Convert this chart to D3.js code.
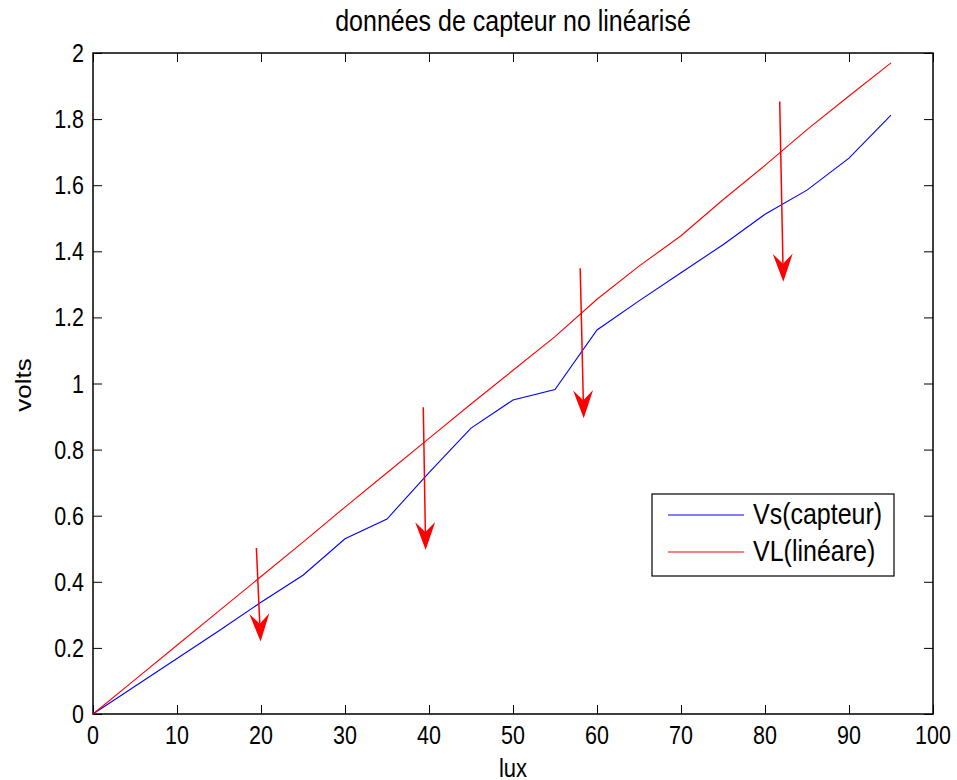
<!DOCTYPE html>
<html>
<head>
<meta charset="utf-8">
<script src="https://d3js.org/d3.v7.min.js"></script>
<style>
  body { margin: 0; background: #fff; }
  svg { display: block; }
  text { font-family: "Liberation Sans", Arial, sans-serif; fill: #000; }
</style>
</head>
<body>
<svg id="chart"></svg>
<script>
// data
var lux = [0, 5, 10, 15, 20, 25, 30, 35, 40, 45, 50, 55, 60, 65, 70, 75, 80, 85, 90, 95];
var vsCapteur = [0, 0.084, 0.168, 0.252, 0.338, 0.42, 0.53, 0.59, 0.73, 0.865, 0.95, 0.982, 1.162, 1.25, 1.335, 1.42, 1.512, 1.585, 1.682, 1.812];
var vlLineaire = [0, 0.104, 0.208, 0.312, 0.416, 0.52, 0.626, 0.73, 0.834, 0.938, 1.04, 1.142, 1.255, 1.355, 1.447, 1.556, 1.66, 1.768, 1.87, 1.97];
var seriesNames = ["Vs(capteur)", "VL(linéare)"];
var seriesColors = ["#0000ff", "#ff0000"];
var xTickValues = [0, 10, 20, 30, 40, 50, 60, 70, 80, 90, 100];
var yTickValues = [0, 0.2, 0.4, 0.6, 0.8, 1, 1.2, 1.4, 1.6, 1.8, 2];
var yTickLabels = ["0", "0.2", "0.4", "0.6", "0.8", "1", "1.2", "1.4", "1.6", "1.8", "2"];
// annotation arrows (start -> tip) in data units
var arrowStart = [[19.45, 0.502], [39.32, 0.928], [58.0, 1.349], [81.75, 1.853]];
var arrowTip = [[19.95, 0.219], [39.6, 0.496], [58.42, 0.895], [82.18, 1.308]];

var W = 957, H = 780;
var plotL = 93, plotR = 933, plotT = 53, plotB = 714;
var SY = 1.18; // text in the reference is stretched vertically

var svg = d3.select("#chart").attr("width", W).attr("height", H);

var x = d3.scaleLinear().domain([0, 100]).range([plotL, plotR]);
var y = d3.scaleLinear().domain([0, 2]).range([plotB, plotT]);

function label(g, txt, px, py, size, anchor, rot) {
  return g.append("text")
    .attr("transform", "translate(" + px + "," + py + ") scale(1," + SY + ")" + (rot ? " rotate(" + rot + ")" : ""))
    .attr("text-anchor", anchor)
    .style("font-size", size + "px")
    .text(txt);
}

// ticks, inward on all four sides
svg.append("g").attr("transform", "translate(0," + plotB + ")")
  .call(d3.axisBottom(x).tickValues(xTickValues).tickSizeInner(-9).tickSizeOuter(0).tickFormat(""));
svg.append("g").attr("transform", "translate(0," + plotT + ")")
  .call(d3.axisTop(x).tickValues(xTickValues).tickSizeInner(-9).tickSizeOuter(0).tickFormat(""));
svg.append("g").attr("transform", "translate(" + plotL + ",0)")
  .call(d3.axisLeft(y).tickValues(yTickValues).tickSizeInner(-9).tickSizeOuter(0).tickFormat(""));
svg.append("g").attr("transform", "translate(" + plotR + ",0)")
  .call(d3.axisRight(y).tickValues(yTickValues).tickSizeInner(-9).tickSizeOuter(0).tickFormat(""));
svg.selectAll(".domain").remove();
svg.selectAll(".tick line").attr("stroke", "#000").attr("stroke-width", 1);

// frame
svg.append("rect")
  .attr("x", plotL).attr("y", plotT)
  .attr("width", plotR - plotL).attr("height", plotB - plotT)
  .attr("fill", "none").attr("stroke", "#000").attr("stroke-width", 1.5);

// tick labels
var labels = svg.append("g");
xTickValues.forEach(function (v) { label(labels, String(v), x(v), plotB + 30, 21.5, "middle"); });
yTickValues.forEach(function (v, i) { label(labels, yTickLabels[i], plotL - 9, y(v) + 9, 21.5, "end"); });

// title and axis labels
label(svg, "données de capteur no linéarisé", (plotL + plotR) / 2, 31, 25, "middle");
label(svg, "lux", (plotL + plotR) / 2, 777, 22, "middle");
label(svg, "volts", 31, 385, 22, "middle", -90);

// lines
var line = d3.line().x(function (d) { return x(d[0]); }).y(function (d) { return y(d[1]); });
[vsCapteur, vlLineaire].forEach(function (vals, i) {
  svg.append("path")
    .datum(lux.map(function (l, j) { return [l, vals[j]]; }))
    .attr("d", line)
    .attr("fill", "none")
    .attr("stroke", seriesColors[i])
    .attr("stroke-width", 1.1);
});

// arrows
arrowStart.forEach(function (s, i) {
  var x0 = x(s[0]), y0 = y(s[1]), x1 = x(arrowTip[i][0]), y1 = y(arrowTip[i][1]);
  var len = Math.hypot(x1 - x0, y1 - y0), ux = (x1 - x0) / len, uy = (y1 - y0) / len;
  var nx = -uy, ny = ux;
  var bx = x1 - ux * 28, by = y1 - uy * 28, mx = x1 - ux * 18, my = y1 - uy * 18;
  svg.append("line")
    .attr("x1", x0).attr("y1", y0).attr("x2", mx).attr("y2", my)
    .attr("stroke", "#ff0000").attr("stroke-width", 1.5);
  svg.append("path")
    .attr("d", "M" + x1 + "," + y1 + "L" + (bx + nx * 10) + "," + (by + ny * 10) +
      "L" + mx + "," + my + "L" + (bx - nx * 10) + "," + (by - ny * 10) + "Z")
    .attr("fill", "#ff0000");
});

// legend
var lg = svg.append("g");
lg.append("rect").attr("x", 652).attr("y", 494).attr("width", 242).attr("height", 82)
  .attr("fill", "#fff").attr("stroke", "#000").attr("stroke-width", 1.2);
seriesNames.forEach(function (n, i) {
  var ly = 515 + i * 37;
  lg.append("line").attr("x1", 668).attr("x2", 744).attr("y1", ly).attr("y2", ly)
    .attr("stroke", seriesColors[i]).attr("stroke-width", 1.1);
  label(lg, n, 753, ly + 9, 25, "start");
});
</script>
</body>
</html>
